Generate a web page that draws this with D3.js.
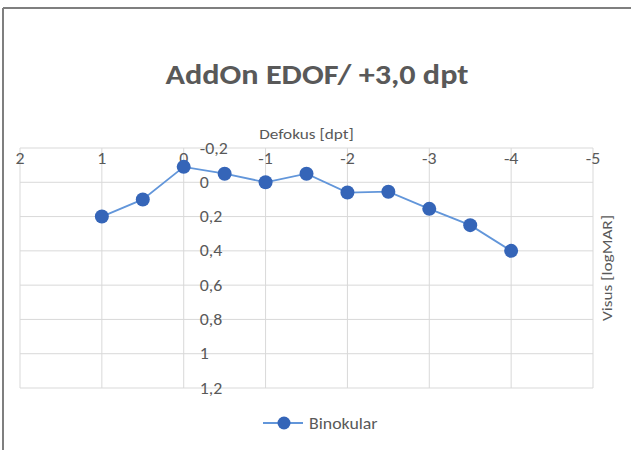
<!DOCTYPE html>
<meta charset="utf-8">
<style>
    body { margin: 0; background: #fff; }
    text { font-family: Calibri, Carlito, Lato, sans-serif; fill: #595959; }
    .grid line { stroke: #d9d9d9; stroke-width: 1; }
</style>
<body>
<svg width="631" height="450"></svg>
<script src="https://d3js.org/d3.v7.min.js"></script>
<script>
    // values
    var defocus = [1, 0.5, 0, -0.5, -1, -1.5, -2, -2.5, -3, -3.5, -4];
    var visus = [0.2, 0.1, -0.09, -0.05, 0.0, -0.05, 0.06, 0.055, 0.155, 0.25, 0.4];
    var xTicks = [2, 1, 0, -1, -2, -3, -4, -5];
    var yTicks = [-0.2, 0, 0.2, 0.4, 0.6, 0.8, 1, 1.2];
    var seriesName = "Binokular";

    var svg = d3.select("svg");
    var stretch = 1.15; // the scan is a bit wider than tall

    var x = d3.scaleLinear().domain([2, -5]).range([20, 593]);
    var y = d3.scaleLinear().domain([-0.2, 1.2]).range([148, 388]);

    var fmt = function (d) { return String(+d.toFixed(1)).replace(".", ","); };

    function label(g, px, py, txt, size, anchor, rot) {
        return g.append("text")
            .attr("transform", "translate(" + px + "," + py + ")" + (rot ? " rotate(" + rot + ")" : "") + " scale(" + stretch + ",1)")
            .attr("text-anchor", anchor || "start")
            .style("font-size", size + "px")
            .text(txt);
    }

    // frame
    svg.append("line").attr("x1", 3).attr("x2", 631).attr("y1", 8).attr("y2", 8)
        .style("stroke", "#7f7f7f").style("stroke-width", 2);
    svg.append("line").attr("x1", 3).attr("x2", 3).attr("y1", 8).attr("y2", 450)
        .style("stroke", "#7f7f7f").style("stroke-width", 2);

    // title
    label(svg, 317, 84, "AddOn EDOF/ +3,0 dpt", 28, "middle").style("font-weight", "bold");

    // grid
    var grid = svg.append("g").attr("class", "grid");
    grid.selectAll(".h").data(yTicks).enter().append("line")
        .attr("x1", x(2)).attr("x2", x(-5))
        .attr("y1", function (d) { return y(d); })
        .attr("y2", function (d) { return y(d); });
    grid.selectAll(".v").data(xTicks).enter().append("line")
        .attr("x1", function (d) { return x(d); })
        .attr("x2", function (d) { return x(d); })
        .attr("y1", y(-0.2)).attr("y2", y(1.2));

    // x tick labels (top)
    var gx = svg.append("g");
    xTicks.forEach(function (d) { label(gx, x(d), y(-0.2) + 16, fmt(d), 15.5, "middle"); });

    // y tick labels, next to the axis at x = 0
    var gy = svg.append("g");
    yTicks.forEach(function (d) { label(gy, x(0) + 16, y(d) + 5.5, fmt(d), 15.5); });

    // axis titles
    label(svg, (x(2) + x(-5)) / 2, 139, "Defokus [dpt]", 15, "middle");
    label(svg, 612, (y(-0.2) + y(1.2)) / 2, "Visus [logMAR]", 15, "middle", -90);

    // series
    var data = defocus.map(function (d, i) { return { x: d, y: visus[i] }; });

    svg.append("path")
        .datum(data)
        .attr("fill", "none")
        .attr("stroke", "#6296da")
        .attr("stroke-width", 1.8)
        .attr("d", d3.line().x(function (d) { return x(d.x); }).y(function (d) { return y(d.y); }));

    svg.selectAll(".pt").data(data).enter().append("circle")
        .attr("cx", function (d) { return x(d.x); })
        .attr("cy", function (d) { return y(d.y); })
        .attr("r", 7)
        .style("fill", "#3565b8");

    // legend
    var lg = svg.append("g").attr("transform", "translate(263,423)");
    lg.append("line").attr("x1", 0).attr("x2", 40)
        .attr("stroke", "#6296da").attr("stroke-width", 1.8);
    lg.append("circle").attr("cx", 21).attr("r", 6.5).style("fill", "#3565b8");
    label(lg, 46, 5.5, seriesName, 15.5);
</script>
</body>
